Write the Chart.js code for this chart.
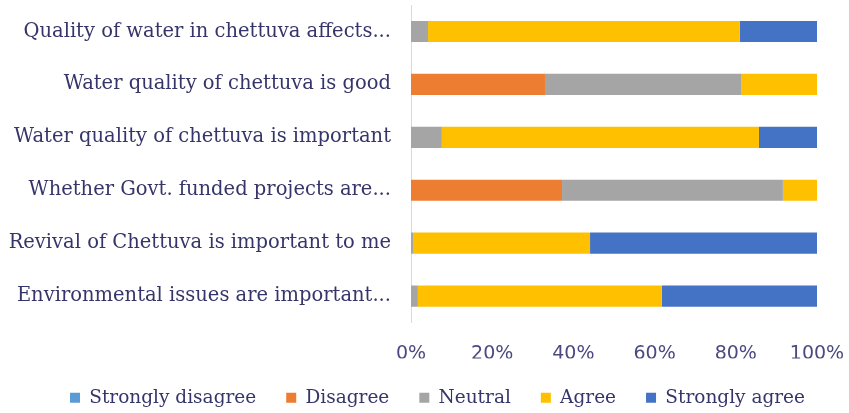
<!DOCTYPE html>
<html>
<head>
<meta charset="utf-8">
<script src="https://cdn.jsdelivr.net/npm/chart.js@4"></script>
<style>
  body { margin: 0; background: #fff; }
  #wrap { width: 849px; height: 413px; }
</style>
</head>
<body>
<div id="wrap"><canvas id="myChart"></canvas></div>
<script>
const categories = [
  "Quality of water in chettuva affects...",
  "Water quality of chettuva is good",
  "Water quality of chettuva is important",
  "Whether Govt. funded projects are...",
  "Revival of Chettuva is important to me",
  "Environmental issues are important...",
];
const stronglyDisagree = [0, 0, 0, 0, 0, 0];
const disagree = [0, 33, 0, 37.2, 0, 0];
const neutral = [4.2, 48.3, 7.6, 54.4, 0.5, 1.7];
const agree = [76.8, 18.7, 78.1, 8.4, 43.6, 60.1];
const stronglyAgree = [19, 0, 14.3, 0, 55.9, 38.2];
const tickLabels = ["0%", "20%", "40%", "60%", "80%", "100%"];

const textColor = "#35356a";

function makeSet(label, data, color) {
  return {
    label: label,
    data: data,
    backgroundColor: color,
    borderWidth: 0,
    barPercentage: 0.8,
    categoryPercentage: 0.5,
  };
}

// legend padding is kept wide for the gaps between items,
// but its box is shortened a bit so it sits lower, and nudged right
const legendShrink = {
  id: "legendShrink",
  beforeLayout(chart) {
    const legend = chart.legend;
    if (legend && !legend._shrunk) {
      const fit = legend.fit;
      legend.fit = function () {
        fit.call(this);
        this.height -= 4;
      };
      legend._shrunk = true;
    }
  },
  afterLayout(chart) {
    if (chart.legend) {
      chart.legend.left += 29;
      chart.legend.right += 29;
    }
  },
};

new Chart(document.querySelector("#myChart"), {
  type: "bar",
  data: {
    labels: categories,
    datasets: [
      makeSet("Strongly disagree", stronglyDisagree, "#5b9bd5"),
      makeSet("Disagree", disagree, "#ed7d31"),
      makeSet("Neutral", neutral, "#a5a5a5"),
      makeSet("Agree", agree, "#ffc000"),
      makeSet("Strongly agree", stronglyAgree, "#4472c4"),
    ],
  },
  plugins: [legendShrink],
  options: {
    indexAxis: "y",
    responsive: true,
    maintainAspectRatio: false,
    animation: false,
    layout: { padding: { top: 5, right: 32, left: 0, bottom: 0 } },
    plugins: {
      tooltip: { enabled: false },
      legend: {
        position: "bottom",
        labels: {
          color: textColor,
          font: { family: "DejaVu Serif", size: 18.5 },
          boxWidth: 10,
          boxHeight: 10,
          padding: 30,
        },
      },
    },
    scales: {
      x: {
        stacked: true,
        min: 0,
        max: 100,
        border: { display: false },
        grid: { display: false, drawTicks: false },
        ticks: {
          stepSize: 20,
          color: "#4a4a80",
          font: { family: "DejaVu Sans", size: 19 },
          padding: 20,
          callback: (v, i) => tickLabels[i],
        },
        afterFit: (scale) => {
          scale.height = 36;
          scale.paddingLeft = 0;
          scale.paddingRight = 0;
        },
      },
      y: {
        stacked: true,
        border: { display: true, color: "#d9d9d9" },
        grid: { display: false, drawTicks: false },
        ticks: {
          color: textColor,
          font: { family: "DejaVu Serif", size: 19.5 },
          padding: 20,
        },
        afterFit: (scale) => {
          scale.width = 411;
          scale.paddingTop = 0;
          scale.paddingBottom = 0;
        },
      },
    },
  },
});
</script>
</body>
</html>
